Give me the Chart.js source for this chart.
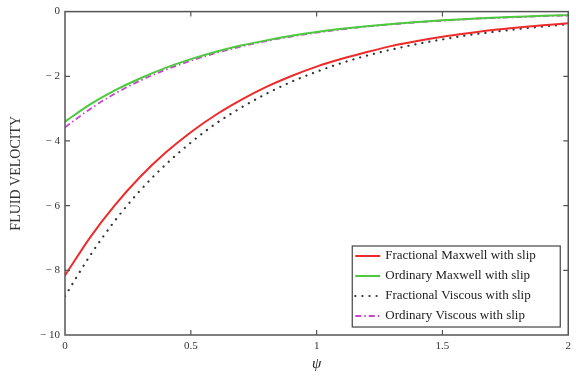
<!DOCTYPE html>
<html>
<head>
<meta charset="utf-8">
<script src="https://cdn.jsdelivr.net/npm/chart.js@4/dist/chart.umd.min.js"></script>
<style>
  html, body { margin: 0; padding: 0; background: #fff; }
  #wrap { width: 576px; height: 377px; }
</style>
</head>
<body>
<div id="wrap"><canvas id="velo" width="576" height="377"></canvas></div>
<script>
// psi values along the x axis
const psi = [0, 0.1, 0.2, 0.3, 0.4, 0.5, 0.6, 0.7, 0.8, 0.9, 1.0,
             1.1, 1.2, 1.3, 1.4, 1.5, 1.6, 1.7, 1.8, 1.9, 2.0];

// fluid velocity for each case
const fracMaxwell = [-8.16, -6.98, -5.97, -5.10, -4.36, -3.73, -3.19, -2.73, -2.33, -1.99, -1.70,
                     -1.46, -1.25, -1.06, -0.91, -0.78, -0.67, -0.57, -0.49, -0.42, -0.36];
const ordMaxwell  = [-3.40, -2.87, -2.43, -2.06, -1.74, -1.47, -1.24, -1.05, -0.89, -0.75, -0.63,
                     -0.53, -0.45, -0.38, -0.32, -0.27, -0.23, -0.19, -0.16, -0.13, -0.11];
const fracViscous = [-8.80, -7.54, -6.45, -5.52, -4.73, -4.05, -3.46, -2.97, -2.54, -2.17, -1.86,
                     -1.59, -1.36, -1.17, -1.00, -0.86, -0.73, -0.63, -0.54, -0.46, -0.39];
const ordViscous  = [-3.58, -3.01, -2.53, -2.13, -1.80, -1.52, -1.28, -1.08, -0.91, -0.77, -0.65,
                     -0.55, -0.46, -0.39, -0.33, -0.28, -0.23, -0.20, -0.17, -0.14, -0.12];

const seriesNames = ['Fractional Maxwell with slip', 'Ordinary Maxwell with slip',
                     'Fractional Viscous with slip', 'Ordinary Viscous with slip'];

const xTicks = [0, 0.5, 1, 1.5, 2];
const yTicks = [0, -2, -4, -6, -8, -10];

const serif = '"Liberation Serif", "DejaVu Serif", serif';

function pts(ys) {
  return psi.map((x, i) => ({ x: x, y: ys[i] }));
}

// box around the plot with small inward ticks on every side
const framePlugin = {
  id: 'frame',
  afterDatasetsDraw(chart) {
    const { ctx, chartArea: a, scales } = chart;
    ctx.save();
    ctx.strokeStyle = '#555';
    ctx.lineWidth = 1.5;
    ctx.strokeRect(a.left, a.top, a.right - a.left, a.bottom - a.top);
    ctx.lineWidth = 1.2;
    ctx.beginPath();
    xTicks.slice(1, -1).forEach(v => {
      const px = scales.x.getPixelForValue(v);
      ctx.moveTo(px, a.bottom); ctx.lineTo(px, a.bottom - 5);
      ctx.moveTo(px, a.top); ctx.lineTo(px, a.top + 5);
    });
    yTicks.slice(1, -1).forEach(v => {
      const py = scales.y.getPixelForValue(v);
      ctx.moveTo(a.left, py); ctx.lineTo(a.left + 5, py);
      ctx.moveTo(a.right, py); ctx.lineTo(a.right - 5, py);
    });
    ctx.stroke();
    ctx.restore();
  }
};

// boxed legend in the lower right corner of the plot
const legendBox = {
  id: 'legendBox',
  afterDraw(chart) {
    const { ctx, chartArea: a } = chart;
    const w = 208, h = 81;
    const x0 = a.right - 8 - w, y0 = a.bottom - 8 - h;
    ctx.save();
    ctx.fillStyle = '#fff';
    ctx.fillRect(x0, y0, w, h);
    ctx.strokeStyle = '#444';
    ctx.lineWidth = 1.2;
    ctx.strokeRect(x0, y0, w, h);
    ctx.font = '13px ' + serif;
    ctx.textBaseline = 'middle';
    chart.data.datasets.forEach((ds, i) => {
      const y = y0 + 10 + i * 20;
      ctx.strokeStyle = ds.borderColor;
      ctx.lineWidth = ds.borderWidth;
      ctx.setLineDash(ds.borderDash || []);
      ctx.lineCap = ds.borderCapStyle || 'butt';
      ctx.beginPath();
      ctx.moveTo(x0 + 3, y);
      ctx.lineTo(x0 + 28, y);
      ctx.stroke();
      ctx.setLineDash([]);
      ctx.fillStyle = '#222';
      ctx.fillText(ds.label, x0 + 33, y);
    });
    ctx.restore();
  }
};

new Chart(document.getElementById('velo'), {
  type: 'line',
  data: {
    datasets: [
      { label: seriesNames[0], data: pts(fracMaxwell), borderColor: '#ee2a2a', borderWidth: 2 },
      { label: seriesNames[1], data: pts(ordMaxwell), borderColor: '#4cc93c', borderWidth: 2 },
      { label: seriesNames[2], data: pts(fracViscous), borderColor: '#333', borderWidth: 2.2,
        borderDash: [0.1, 7], borderCapStyle: 'round' },
      { label: seriesNames[3], data: pts(ordViscous), borderColor: '#c845d0', borderWidth: 1.8,
        borderDash: [6, 3, 1.5, 3] }
    ]
  },
  options: {
    responsive: false,
    animation: false,
    devicePixelRatio: 1,
    layout: { padding: { top: 9, right: 7, left: 0, bottom: 0 } },
    elements: { point: { radius: 0 }, line: { cubicInterpolationMode: 'monotone', fill: false } },
    plugins: { legend: { display: false }, tooltip: { enabled: false } },
    scales: {
      x: {
        type: 'linear', min: 0, max: 2,
        afterBuildTicks: s => { s.ticks = xTicks.map(v => ({ value: v })); },
        afterFit: s => { s.height = 42; },
        grid: { display: false, drawTicks: false },
        border: { display: false },
        ticks: { padding: 5, color: '#333', font: { family: serif, size: 11 },
                 maxRotation: 0, callback: v => String(v) },
        title: { display: true, text: 'ψ', color: '#222',
                 font: { family: serif, size: 15, style: 'italic' }, padding: { top: 0, bottom: 4 } }
      },
      y: {
        type: 'linear', min: -10, max: 0,
        afterBuildTicks: s => { s.ticks = yTicks.map(v => ({ value: v })); },
        afterFit: s => { s.width = 65; },
        grid: { display: false, drawTicks: false },
        border: { display: false },
        ticks: { padding: 5, color: '#333', font: { family: serif, size: 11 },
                 callback: v => v < 0 ? '\u2212 ' + Math.abs(v) : String(v) },
        title: { display: true, text: 'FLUID VELOCITY', color: '#333',
                 font: { family: serif, size: 14 }, padding: { top: 8, bottom: 0 } }
      }
    }
  },
  plugins: [framePlugin, legendBox]
});
</script>
</body>
</html>
